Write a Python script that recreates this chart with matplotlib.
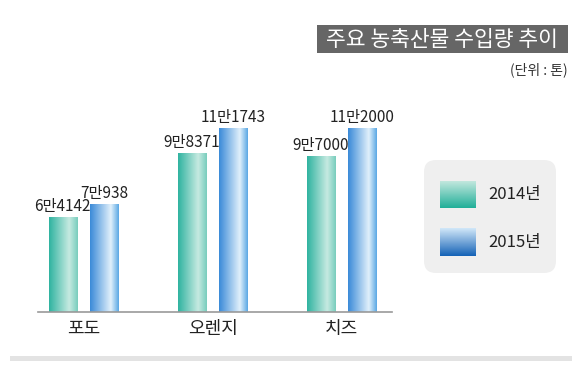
import numpy as np
import matplotlib
matplotlib.use('Agg')
import matplotlib.pyplot as plt
from matplotlib.colors import LinearSegmentedColormap
from matplotlib.patches import FancyBboxPatch, Rectangle

plt.rcParams['font.family'] = ['Noto Sans CJK KR', 'DejaVu Sans']

# 데이터 (단위: 톤)
categories = ['포도', '오렌지', '치즈']
series = ['2014년', '2015년']
v2014 = [64142, 98371, 97000]
v2015 = [70938, 111743, 112000]
labels2014 = ['6만4142', '9만8371', '9만7000']
labels2015 = ['7만938', '11만1743', '11만2000']
title = '주요 농축산물 수입량 추이'
unit = '(단위 : 톤)'

W, H = 580, 376
fig = plt.figure(figsize=(W / 100, H / 100), dpi=100)
fig.patch.set_facecolor('white')

# 배경 장식용 축 (픽셀 좌표)
bg = fig.add_axes([0, 0, 1, 1])
bg.axis('off')

# 막대 그래프 축 (원본은 세로축이 0부터 시작하지 않음)
ax = fig.add_axes([38 / W, (H - 312) / H, (392 - 38) / W, 224 / H])
ax.set_facecolor('none')

# 막대 그라데이션
cm14 = LinearSegmentedColormap.from_list('c14', [(0, '#2fb3a0'), (0.7, '#c6eae1'), (1, '#78cdbd')])
cm15 = LinearSegmentedColormap.from_list('c15', [(0, '#3a8ad8'), (0.72, '#e0f0fb'), (1, '#5aa7e4')])
grad_h = np.linspace(0, 1, 256).reshape(1, -1)

x = np.arange(len(categories))
bw = 0.217
off = 0.161
bars14 = ax.bar(x - off, v2014, bw, facecolor='none', edgecolor='none')
bars15 = ax.bar(x + off, v2015, bw, facecolor='none', edgecolor='none')

for bars, cm, labs in [(bars14, cm14, labels2014), (bars15, cm15, labels2015)]:
    for p, lab in zip(bars, labs):
        x0, w, h = p.get_x(), p.get_width(), p.get_height()
        ax.imshow(grad_h, extent=[x0, x0 + w, 0, h], aspect='auto', cmap=cm, zorder=2)
        ax.text(x0 + w / 2, h + 1300, lab, ha='center', va='bottom', fontsize=11, color='#222222')

ax.set_xlim(-0.353, 2.39)
ax.set_ylim(13000, 133700)
ax.set_xticks(x, categories, fontsize=13, color='#222222')
ax.tick_params(axis='x', length=0, pad=6)
ax.set_yticks([])
for s in ['top', 'right', 'left']:
    ax.spines[s].set_visible(False)
ax.spines['bottom'].set_color('#999999')
ax.spines['bottom'].set_linewidth(1.2)

# 제목 상자
bg.add_patch(Rectangle((317, 25), 251, 28, facecolor='#666666', edgecolor='none'))
bg.text(442, 39.5, title, ha='center', va='center', fontsize=15.5, color='white')
bg.text(568, 70, unit, ha='right', va='center', fontsize=10, color='#333333')

# 범례
bg.add_patch(FancyBboxPatch((424, 160), 132, 113, boxstyle='round,pad=0,rounding_size=12',
                            facecolor='#efefef', edgecolor='none', zorder=1))
grad_v = np.linspace(0, 1, 256).reshape(-1, 1)
leg14 = LinearSegmentedColormap.from_list('l14', ['#c2e8de', '#20ae98'])
leg15 = LinearSegmentedColormap.from_list('l15', ['#d2e8f9', '#1462b6'])
bg.imshow(grad_v, extent=[440, 476, 208, 181], aspect='auto', cmap=leg14, zorder=2)
bg.imshow(grad_v, extent=[440, 476, 256, 228], aspect='auto', cmap=leg15, zorder=2)
bg.text(488, 195, series[0], va='center', fontsize=12, color='#222222')
bg.text(488, 242, series[1], va='center', fontsize=12, color='#222222')

# 하단 회색 띠
bg.add_patch(Rectangle((10, 356), 562, 5, facecolor='#e3e3e3', edgecolor='none'))

bg.set_xlim(0, W)
bg.set_ylim(H, 0)

fig.savefig('out.png', dpi=100)
